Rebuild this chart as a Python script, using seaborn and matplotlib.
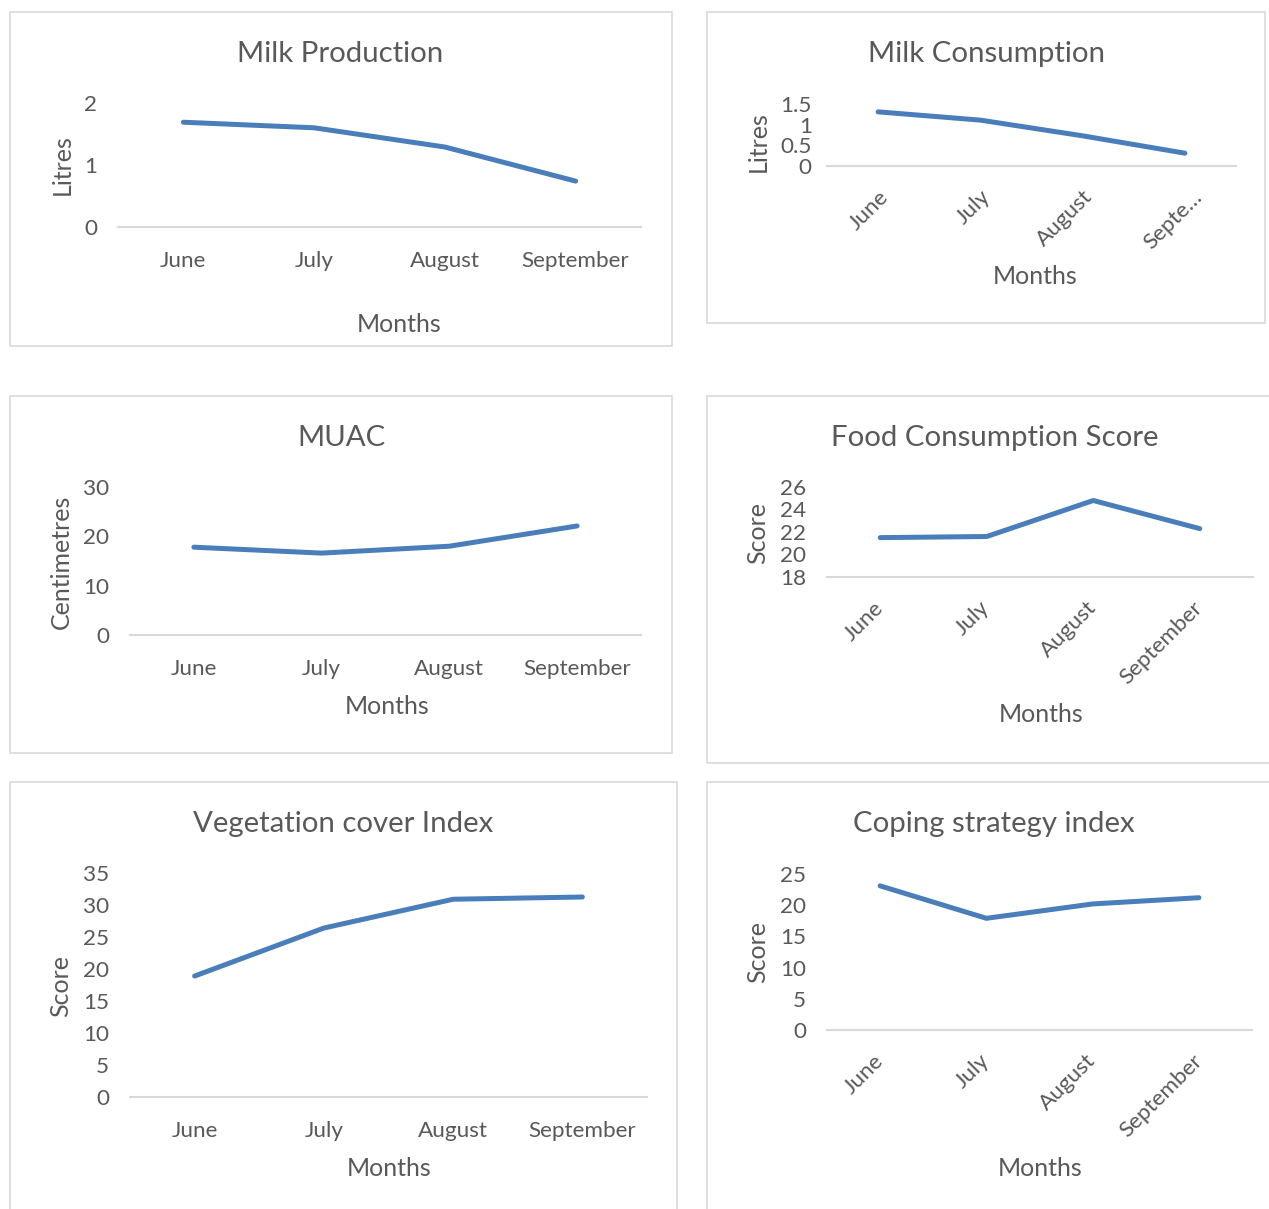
import matplotlib
matplotlib.use("Agg")
import matplotlib.pyplot as plt
import matplotlib.transforms as mtransforms
from matplotlib.patches import Rectangle
from matplotlib.ticker import FuncFormatter
import pandas as pd
import seaborn as sns

months = ["June", "July", "August", "September"]
milk_production = [1.69, 1.60, 1.29, 0.74]
milk_consumption = [1.31, 1.11, 0.73, 0.31]
muac = [17.8, 16.6, 18.0, 22.1]
food_consumption = [21.5, 21.6, 24.8, 22.3]
vegetation = [18.9, 26.4, 30.9, 31.25]
coping = [23.1, 17.9, 20.2, 21.2]

sns.set_style("white")
plt.rcParams["font.family"] = ["Lato", "DejaVu Sans"]

W, H = 1269, 1209
TXT = "#595959"
GRID = "#d9d9d9"
BLUE = "#4a7ebb"

fig = plt.figure(figsize=(W / 100, H / 100), dpi=100)


def px_axes(l, t, r, b):
    return fig.add_axes([l / W, 1 - b / H, (r - l) / W, (b - t) / H])


def box(l, t, r, b):
    fig.patches.append(Rectangle((l / W, 1 - b / H), (r - l) / W, (b - t) / H,
                                 transform=fig.transFigure, fill=False,
                                 edgecolor=GRID, linewidth=1.2))


def panel(rect, frame, values, title, ylabel, ylim, step, tpos, xlpos, ylpos,
          rotate=False, ticklabels=None, ypad=15, xshift=None):
    box(*frame)
    ax = px_axes(*rect)
    df = pd.DataFrame({"month": months, "value": values})
    sns.lineplot(data=df, x="month", y="value", ax=ax, color=BLUE, linewidth=3.6,
                 solid_capstyle="round", sort=False)
    ax.set_xlim(-0.5, 3.5)
    ax.set_ylim(*ylim)
    ticks = []
    v = ylim[0]
    while v <= ylim[1] + 1e-9:
        ticks.append(v)
        v += step
    ax.set_yticks(ticks)
    ax.yaxis.set_major_formatter(FuncFormatter(lambda x, p: "{:g}".format(round(x, 2))))
    for s in ["top", "right", "left"]:
        ax.spines[s].set_visible(False)
    ax.spines["bottom"].set_color(GRID)
    ax.spines["bottom"].set_linewidth(1.5)
    ax.patch.set_alpha(0)
    ax.tick_params(axis="both", length=0, labelsize=16.2, labelcolor=TXT)
    ax.tick_params(axis="y", pad=ypad)
    ax.set_xticks(range(4))
    labs = ticklabels if ticklabels else months
    if rotate:
        ax.set_xticklabels(labs, rotation=45, ha="right", va="center",
                           rotation_mode="anchor")
        ax.tick_params(axis="x", pad=20)
    else:
        ax.set_xticklabels(labs)
        ax.tick_params(axis="x", pad=17)
    if xshift:
        for lab, dx in zip(ax.get_xticklabels(), xshift):
            off = mtransforms.ScaledTranslation(dx / 100, 0, fig.dpi_scale_trans)
            lab.set_transform(lab.get_transform() + off)
    # axis titles placed at pixel positions
    l, t, r, b = rect
    ax.set_xlabel("Months", fontsize=18, color=TXT)
    ax.xaxis.set_label_coords((xlpos[0] - l) / (r - l), (b - xlpos[1]) / (b - t))
    ax.xaxis.label.set_va("center")
    ax.set_ylabel(ylabel, fontsize=18, color=TXT)
    ax.yaxis.set_label_coords((ylpos[0] - l) / (r - l), (b - ylpos[1]) / (b - t))
    ax.yaxis.label.set_va("center")
    fig.text(tpos[0] / W, 1 - (tpos[1] + 2) / H, title, fontsize=21.2, color=TXT,
             ha="center", va="center")
    return ax


panel((118, 103, 641, 227), (10, 12, 672, 346), milk_production, "Milk Production",
      "Litres", (0, 2), 1, (340, 52), (399, 324), (62, 165))
panel((827, 104, 1236, 166), (707, 12, 1265, 323), milk_consumption, "Milk Consumption",
      "Litres", (0, 1.5), 0.5, (986, 52), (1035, 276), (758, 142), rotate=True,
      ticklabels=["June", "July", "August", "Septe\u2026"], ypad=11,
      xshift=[7, 7, 7, 14])
panel((130, 487, 641, 635), (10, 396, 672, 753), muac, "MUAC",
      "Centimetres", (0, 30), 10, (341, 436), (387, 706), (61, 562))
panel((827, 487, 1253, 577), (707, 396, 1275, 763), food_consumption,
      "Food Consumption Score", "Score", (18, 26), 2, (995, 436), (1041, 715),
      (758, 533), rotate=True)
panel((130, 873, 647, 1097), (10, 782, 677, 1215), vegetation, "Vegetation cover Index",
      "Score", (0, 35), 5, (343, 822), (389, 1168), (61, 986))
panel((827, 874, 1252, 1030), (707, 782, 1275, 1215), coping, "Coping strategy index",
      "Score", (0, 25), 5, (994, 822), (1040, 1168), (758, 952), rotate=True)

fig.savefig("out.png", dpi=100, facecolor="white")
